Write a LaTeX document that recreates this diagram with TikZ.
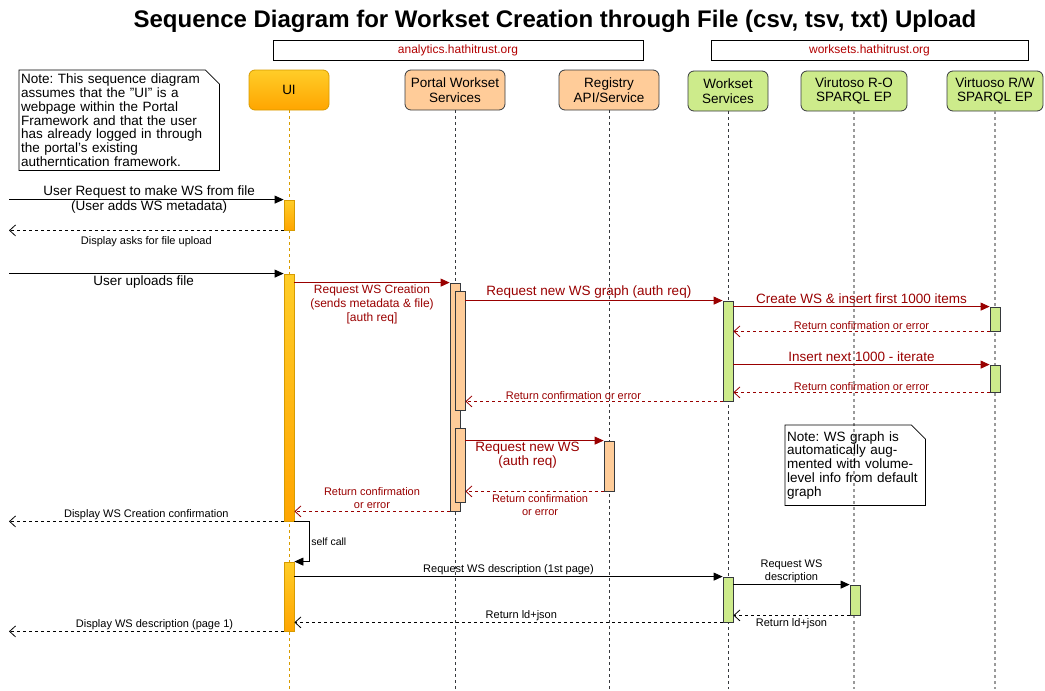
\documentclass[tikz,border=0pt]{standalone}
\usepackage{fontspec}
\setmainfont{Liberation Sans}[Ligatures=ResetAll]
\usetikzlibrary{arrows.meta}
\frenchspacing

\definecolor{wsred}{HTML}{990000}
\definecolor{domred}{HTML}{B20000}
\definecolor{uistroke}{HTML}{D79B00}
\definecolor{uitop}{HTML}{FFCD28}
\definecolor{uibot}{HTML}{FFA500}
\definecolor{peach}{HTML}{FFCC99}
\definecolor{lime}{HTML}{CDEB8B}
\definecolor{edge}{HTML}{36393D}
\definecolor{vgray}{HTML}{9A9A9A}

\begin{document}
\begin{tikzpicture}[x=1pt,y=-1pt,
  every node/.style={font=\fontsize{13.5}{14.5}\selectfont},
  actor/.style={draw=edge,line width=0.8pt,rounded corners=6pt,minimum height=40pt,align=center,inner sep=1pt},
  uiactor/.style={actor,draw=uistroke,top color=uitop,bottom color=uibot},
  hostbox/.style={draw,line width=0.8pt,minimum height=20pt,text=domred,font=\fontsize{12}{14}\selectfont},
  life/.style={draw=edge,line width=0.7pt,dash pattern=on 3pt off 3pt},
  vlife/.style={draw=vgray,line width=1.3pt,dash pattern=on 3pt off 3pt},
  uibar/.style={draw=uistroke,line width=0.8pt,top color=uitop,bottom color=uibot,minimum width=10pt,inner sep=0pt},
  pbar/.style={draw=edge,line width=0.8pt,fill=peach,minimum width=10pt,inner sep=0pt},
  gbar/.style={draw=edge,line width=0.8pt,fill=lime,minimum width=10pt,inner sep=0pt},
  call/.style={line width=0.8pt,-{Triangle[length=9pt,width=8pt]}},
  ret/.style={line width=0.8pt,dash pattern=on 3pt off 3pt,-{Straight Barb[length=6pt,width=11pt]}},
  rcall/.style={call,draw=wsred},
  rret/.style={ret,draw=wsred},
  lbl/.style={align=center,inner sep=1.5pt,font=\fontsize{13.5}{15}\selectfont},
  small/.style={align=center,inner sep=1.5pt,font=\fontsize{11}{13}\selectfont},
  rlbl/.style={lbl,text=wsred,font=\fontsize{13.5}{14}\selectfont},
  rlblb/.style={lbl,text=wsred,font=\fontsize{12}{14}\selectfont},
  rsmall/.style={small,text=wsred},
  notetext/.style={align=left,inner sep=2pt,anchor=north west,font=\fontsize{13.5}{13.8}\selectfont},
  noteline/.style={line width=0.8pt}
]
\useasboundingbox (0,0) rectangle (1045,691);

% title and the two hosts
\node[font=\fontsize{24}{28}\selectfont\bfseries] (title) at (555,21) {Sequence Diagram for Workset Creation through File (csv, tsv, txt) Upload};
\node[hostbox,minimum width=370pt] (ana) at (458,50) {analytics.hathitrust.org};
\node[hostbox,minimum width=317pt] (wsh) at (869.5,50) {worksets.hathitrust.org};

% participants
\node[uiactor,minimum width=80pt] (ui) at (289,90) {UI};
\node[actor,fill=peach,minimum width=100pt] (pws) at (455,90) {Portal Workset\\Services};
\node[actor,fill=peach,minimum width=100pt] (reg) at (609,90) {Registry\\API/Service};
\node[actor,fill=lime,minimum width=80pt] (ws) at (728,91) {Workset\\Services};
\node[actor,fill=lime,minimum width=106pt] (ro) at (854,91) {Virutoso R-O\\SPARQL EP};
\node[actor,fill=lime,minimum width=96pt] (rw) at (995,91) {Virtuoso R/W\\SPARQL EP};

\coordinate (bottom) at (0,689);
\coordinate (user) at (9,0);

% lifelines
\draw[life,draw=uistroke] (ui.south) -- (ui.south |- bottom);
\draw[life] (pws.south) -- (pws.south |- bottom);
\draw[life] (reg.south) -- (reg.south |- bottom);
\draw[life] (ws.south) -- (ws.south |- bottom);
\draw[vlife] (ro.south) -- (ro.south |- bottom);
\draw[vlife] (rw.south) -- (rw.south |- bottom);

% notes
\node[notetext,text width=196pt,minimum height=100pt] (n1) at (19,70) {Note: This sequence diagram\\assumes that the "UI" is a\\webpage within the Portal\\Framework and that the user\\has already logged in through\\the portal's existing\\autherntication framework.};
\draw[noteline] (n1.north west) -- ([xshift=-14pt]n1.north east) -- ([yshift=-14pt]n1.north east) -- (n1.south east) -- (n1.south west) -- cycle;
\node[notetext,text width=136pt,minimum height=80pt] (n2) at (785,425) {Note: WS graph is\\automatically aug-\\mented with volume-\\level info from default\\graph};
\draw[noteline] (n2.north west) -- ([xshift=-14pt]n2.north east) -- ([yshift=-14pt]n2.north east) -- (n2.south east) -- (n2.south west) -- cycle;

% activation bars
\node[uibar,minimum height=30pt] (ua1) at (289,215) {};
\node[uibar,minimum height=247pt] (ua2) at (289,397.5) {};
\node[uibar,minimum height=69pt] (ua3) at (289,596.5) {};
\node[pbar,minimum height=228pt] (pa1) at (455,397) {};
\node[pbar,minimum height=119pt] (pa2) at (460,350.5) {};
\node[pbar,minimum height=74pt] (pa3) at (460,465) {};
\node[pbar,minimum height=50pt] (rg1) at (609,466) {};
\node[gbar,minimum height=100pt] (wa1) at (728,351) {};
\node[gbar,minimum height=45pt] (wa2) at (728,599.5) {};
\node[gbar,minimum height=30pt] (ro1) at (855,600) {};
\node[gbar,minimum height=24pt] (rw1) at (995,319) {};
\node[gbar,minimum height=27pt] (rw2) at (995,378.5) {};

% messages
\draw[call] (user |- ua1.north) -- node[lbl,pos=0.51]{User Request to make WS from file\\(User adds WS metadata)} (ua1.north west);
\draw[ret] (ua1.south west) -- node[small,below=4pt]{Display asks for file upload} (user |- ua1.south);
\draw[call] (user |- ua2.north) -- node[lbl,below=0pt,pos=0.49]{User uploads file} (ua2.north west);
\draw[rcall] (ua2.east |- pa1.north) -- node[rlblb,below=0pt]{Request WS Creation\\(sends metadata \& file)\\{[auth req]}} (pa1.north west);
\draw[rcall] (pa2.east |- wa1.north) -- node[rlbl,above=0pt,pos=0.48]{Request new WS graph (auth req)} (wa1.north west);
\draw[rcall] (wa1.east |- rw1.north) -- node[rlbl,above=1pt]{Create WS \& insert first 1000 items} (rw1.north west);
\draw[rret] (rw1.south west) -- node[rsmall,above=0pt]{Return confirmation or error} (wa1.east |- rw1.south);
\draw[rcall] (wa1.east |- rw2.north) -- node[rlbl,above=1pt]{Insert next 1000 - iterate} (rw2.north west);
\draw[rret] (rw2.south west) -- node[rsmall,above=0pt]{Return confirmation or error} (wa1.east |- rw2.south);
\draw[rret] (wa1.south west) -- node[rsmall,above=0pt,pos=0.58]{Return confirmation or error} (pa2.east |- wa1.south);
\draw[rcall] (pa3.east |- rg1.north) -- node[rlbl,below=0pt,pos=0.45]{Request new WS\\(auth req)} (rg1.north west);
\draw[rret] (rg1.south west) -- node[rsmall,below=1pt,pos=0.46]{Return confirmation\\or error} (pa3.east |- rg1.south);
\draw[rret] (pa1.south west) -- node[rsmall,above=1pt]{Return confirmation\\or error} (ua2.east |- pa1.south);
\draw[ret] (ua2.south west) -- node[small,above=0pt]{Display WS Creation confirmation} (user |- ua2.south);
\draw[call] (ua2.south east) -- ++(15,0) |- node[small,right,pos=0.25,font=\fontsize{10.5}{12}\selectfont]{self call} (ua3.north east);
\draw[call] (ua3.east |- wa2.north) -- node[small,above=0pt]{Request WS description (1st page)} (wa2.north west);
\draw[call] (wa2.east |- ro1.north) -- node[small,above=0pt]{Request WS\\description} (ro1.north west);
\draw[ret] (ro1.south west) -- node[small,below=1pt]{Return ld+json} (wa2.east |- ro1.south);
\draw[ret] (wa2.south west) -- node[small,above=0pt,pos=0.47]{Return ld+json} (ua3.east |- wa2.south);
\draw[ret] (ua3.south west) -- node[small,above=0pt,pos=0.47]{Display WS description (page 1)} (user |- ua3.south);
\end{tikzpicture}
\end{document}
